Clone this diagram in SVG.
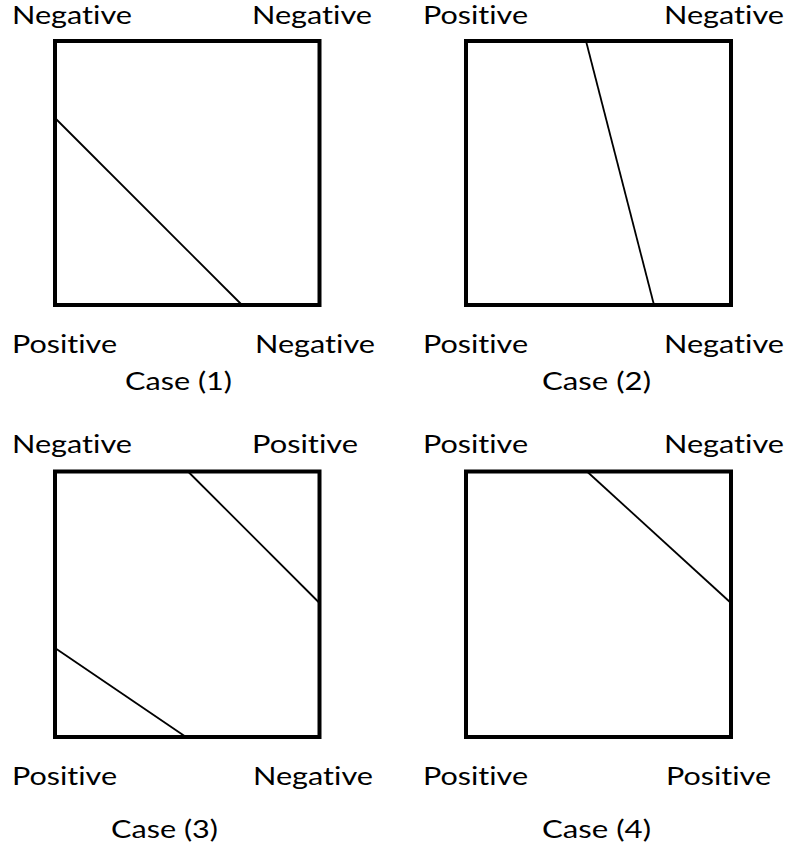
<svg xmlns="http://www.w3.org/2000/svg" width="788" height="854" viewBox="0 0 788 854">
<style>
.box{fill:none;stroke:#000;stroke-width:4}
.cut{stroke:#000;stroke-width:1.8;fill:none}
text{font-family:Lato,"Open Sans","Liberation Sans",sans-serif;font-size:24.5px;fill:#000;font-variant-ligatures:none}
</style>
<rect width="788" height="854" fill="#fff"/>
<g id="case1">
<rect class="box" x="55" y="41" width="264.5" height="264"/>
<text x="12" y="24" textLength="120" lengthAdjust="spacingAndGlyphs">Negative</text>
<text x="252" y="24" textLength="120" lengthAdjust="spacingAndGlyphs">Negative</text>
<text x="12" y="353" textLength="105" lengthAdjust="spacingAndGlyphs">Positive</text>
<text x="255" y="353" textLength="120" lengthAdjust="spacingAndGlyphs">Negative</text>
<text x="125" y="390" textLength="107" lengthAdjust="spacingAndGlyphs">Case (1)</text>
</g>
<g id="case2">
<rect class="box" x="466" y="41" width="265" height="264"/>
<text x="423" y="24" textLength="105" lengthAdjust="spacingAndGlyphs">Positive</text>
<text x="664" y="24" textLength="120" lengthAdjust="spacingAndGlyphs">Negative</text>
<text x="423" y="353" textLength="105" lengthAdjust="spacingAndGlyphs">Positive</text>
<text x="664" y="353" textLength="120" lengthAdjust="spacingAndGlyphs">Negative</text>
<text x="542" y="390" textLength="109" lengthAdjust="spacingAndGlyphs">Case (2)</text>
</g>
<g id="case3">
<rect class="box" x="55" y="471.5" width="264.5" height="265.5"/>
<text x="12" y="453" textLength="120" lengthAdjust="spacingAndGlyphs">Negative</text>
<text x="252" y="453" textLength="106" lengthAdjust="spacingAndGlyphs">Positive</text>
<text x="12" y="785" textLength="105" lengthAdjust="spacingAndGlyphs">Positive</text>
<text x="253" y="785" textLength="120" lengthAdjust="spacingAndGlyphs">Negative</text>
<text x="111" y="838" textLength="107" lengthAdjust="spacingAndGlyphs">Case (3)</text>
</g>
<g id="case4">
<rect class="box" x="466" y="471.5" width="265" height="265.5"/>
<text x="423" y="453" textLength="105" lengthAdjust="spacingAndGlyphs">Positive</text>
<text x="664" y="453" textLength="120" lengthAdjust="spacingAndGlyphs">Negative</text>
<text x="423" y="785" textLength="105" lengthAdjust="spacingAndGlyphs">Positive</text>
<text x="666" y="785" textLength="105" lengthAdjust="spacingAndGlyphs">Positive</text>
<text x="542" y="838" textLength="109" lengthAdjust="spacingAndGlyphs">Case (4)</text>
</g>
<g id="connectors">
<line class="cut" x1="55" y1="118" x2="242" y2="305"/>
<line class="cut" x1="586" y1="41" x2="654" y2="305"/>
<line class="cut" x1="188" y1="471.5" x2="319.5" y2="603"/>
<line class="cut" x1="55" y1="648" x2="186" y2="737"/>
<line class="cut" x1="587" y1="471.5" x2="731" y2="603"/>
</g>
</svg>
